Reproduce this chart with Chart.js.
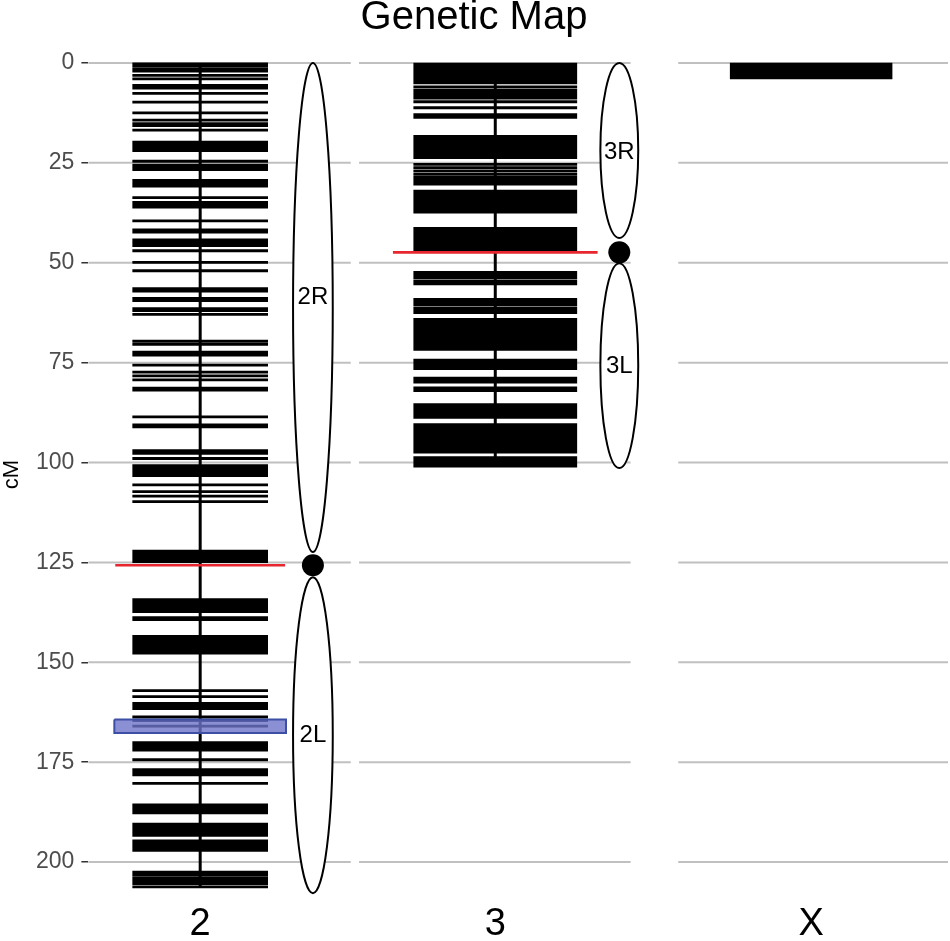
<!DOCTYPE html>
<html>
<head>
<meta charset="utf-8">
<title>Genetic Map</title>
<script src="https://cdn.jsdelivr.net/npm/chart.js@4.4.1/dist/chart.umd.min.js"></script>
<style>
  html, body { margin: 0; padding: 0; background: #fff; }
  #wrap { width: 950px; height: 941px; }
</style>
</head>
<body>
<div id="wrap"><canvas id="mapChart" width="950" height="941"></canvas></div>
<script>
// chromosomes along the x axis
const chromosomes = ['2', '3', 'X'];

// marker positions (cM) per chromosome
const markers2 = [
  0.2, 0.7, 1.5, 2.0, 3.1, 4.0, 5.6, 6.3, 7.6, 9.8, 12.5, 14.3, 15.2, 15.7, 16.8,
  19.8, 20.5, 21.2, 21.9, 24.6, 25.6, 26.3, 26.7, 29.4, 30.1, 30.8, 33.7, 34.9, 35.5, 36.1,
  39.5, 41.8, 42.3, 44.3, 45.0, 45.7, 47.0, 49.9, 52.0, 56.5, 57.1, 58.9, 59.5, 61.5, 62.0, 62.9,
  69.6, 70.4, 72.4, 73.1, 75.6, 77.4, 78.3, 79.3, 81.4, 81.9, 88.6, 90.6, 91.1, 97.0, 97.7, 99.0,
  100.8, 101.5, 102.2, 102.8, 103.3, 105.6, 107.3, 108.4, 109.8,
  122.2, 122.8, 123.4, 124.1, 124.8,
  134.3, 134.9, 135.5, 136.1, 136.7, 137.3, 138.8, 139.3,
  143.5, 144.1, 144.7, 145.3, 145.9, 146.5, 147.1, 147.7,
  157.1, 158.6, 160.3, 161.0, 161.6, 163.7, 164.6, 166.0,
  170.1, 170.8, 171.5, 172.0, 174.4, 176.9, 177.6, 178.2, 180.3,
  185.7, 186.4, 187.1, 187.7, 190.5, 191.2, 191.9, 192.6, 193.3,
  194.7, 195.4, 196.1, 196.8, 197.1,
  202.5, 203.2, 204.0, 204.7, 205.4, 206.2
];
const markers3 = [
  0.3, 0.9, 1.5, 2.1, 2.7, 3.3, 3.9, 4.5, 5.0, 6.0, 6.8, 7.5, 8.1, 8.8, 9.7, 11.2, 12.9, 13.6,
  18.4, 19.1, 19.8, 20.5, 21.2, 21.9, 22.6, 23.3, 23.7,
  25.4, 26.2, 27.0, 27.8, 28.6, 29.3, 30.0, 30.3,
  32.1, 32.8, 33.5, 34.2, 34.9, 35.6, 36.3, 37.0, 37.3,
  41.4, 42.1, 42.8, 43.5, 44.2, 44.9, 45.6, 46.3, 46.9,
  52.4, 53.1, 53.8, 54.6, 55.3,
  59.2, 59.9, 60.6, 61.4, 62.1, 62.5,
  64.2, 64.9, 65.6, 66.3, 67.0, 67.7, 68.4, 69.1, 69.8, 70.5, 71.2, 71.7,
  74.4, 75.1, 75.8, 76.5,
  78.9, 79.4, 79.9, 81.3, 82.0,
  85.5, 86.2, 86.9, 87.6, 88.3, 88.7,
  90.5, 91.2, 91.9, 92.6, 93.3, 94.0, 94.7, 95.4, 96.1, 96.8, 97.4,
  98.8, 99.5, 100.2, 100.9
];
const markersX = [0.3, 0.8, 1.3, 1.8, 2.3, 2.8, 3.3, 3.7];
const markerSets = [markers2, markers3, markersX];

// centromere position (cM) per chromosome
const centromeres = [125.7, 47.4, null];

// chromosome arms
const armNames = ['2R', '2L', '3R', '3L'];
const armChrom = [0, 0, 1, 1];
const armFrom = [0, 128.7, 0, 50.1];
const armTo = [122.4, 207.8, 43.8, 101.4];
const armLabelAt = [58.6, 168.3, 22.3, 75.9];

// highlighted interval
const qtlChrom = 0;
const qtlFrom = 164.3;
const qtlTo = 167.7;

const yTicks = [0, 25, 50, 75, 100, 125, 150, 175, 200];

// horizontal layout (x scale units)
const layout = {
  center: [0, 0.966, 2.0],
  barHalf: [0.222, 0.268, 0.266],
  redHalf: [0.278, 0.335],
  qtlHalf: 0.281,
  armOffset: [0.369, 0.406],
  armHalf: [0.065, 0.062],
  panels: [[-0.366, 0.493], [0.520, 1.409], [1.565, 2.448]]
};

const font = "'Liberation Sans', Arial, Helvetica, sans-serif";

function segments(center, half, values) {
  const out = [];
  values.forEach((v) => {
    out.push({ x: center - half, y: v });
    out.push({ x: center + half, y: v });
    out.push({ x: center + half, y: NaN });
  });
  return out;
}

const datasets = [];

markerSets.forEach((vals, i) => {
  datasets.push({
    label: 'markers ' + chromosomes[i],
    data: segments(layout.center[i], layout.barHalf[i], vals),
    showLine: true,
    borderColor: '#000',
    borderWidth: 2.8,
    pointRadius: 0,
    order: 5
  });
  datasets.push({
    label: 'backbone ' + chromosomes[i],
    data: [
      { x: layout.center[i], y: Math.min(...vals) },
      { x: layout.center[i], y: Math.max(...vals) }
    ],
    showLine: true,
    borderColor: '#000',
    borderWidth: 3,
    pointRadius: 0,
    order: 4
  });
});

centromeres.forEach((c, i) => {
  if (c === null) return;
  datasets.push({
    label: 'centromere line ' + chromosomes[i],
    data: segments(layout.center[i], layout.redHalf[i], [c]),
    showLine: true,
    borderColor: '#e8262f',
    borderWidth: 2.6,
    pointRadius: 0,
    order: 3
  });
});

const qc = layout.center[qtlChrom];
datasets.push({
  label: 'interval',
  data: [
    { x: qc - layout.qtlHalf, y: qtlFrom },
    { x: qc + layout.qtlHalf, y: qtlFrom },
    { x: qc + layout.qtlHalf, y: qtlTo },
    { x: qc - layout.qtlHalf, y: qtlTo },
    { x: qc - layout.qtlHalf, y: qtlFrom }
  ],
  showLine: true,
  fill: 'shape',
  backgroundColor: 'rgba(110,115,200,0.8)',
  borderColor: '#3c4fa5',
  borderWidth: 2,
  pointRadius: 0,
  order: 2
});

datasets.push({
  label: 'centromeres',
  data: centromeres
    .map((c, i) => (c === null ? null : { x: layout.center[i] + layout.armOffset[i], y: c }))
    .filter((p) => p),
  showLine: false,
  pointRadius: 11,
  pointBackgroundColor: '#000',
  pointBorderWidth: 0,
  order: 1
});

const mapDecor = {
  id: 'mapDecor',
  beforeDatasetsDraw(chart) {
    const { ctx } = chart;
    const xs = chart.scales.x;
    const ys = chart.scales.y;
    ctx.save();
    ctx.strokeStyle = '#c0c0c0';
    ctx.lineWidth = 2;
    yTicks.forEach((v) => {
      const py = ys.getPixelForValue(v);
      layout.panels.forEach(([a, b]) => {
        ctx.beginPath();
        ctx.moveTo(xs.getPixelForValue(a), py);
        ctx.lineTo(xs.getPixelForValue(b), py);
        ctx.stroke();
      });
    });

    armNames.forEach((name, i) => {
      const ci = armChrom[i];
      const cxv = layout.center[ci] + layout.armOffset[ci];
      const cx = xs.getPixelForValue(cxv);
      const rx = xs.getPixelForValue(cxv + layout.armHalf[ci]) - cx;
      const top = ys.getPixelForValue(armFrom[i]);
      const bot = ys.getPixelForValue(armTo[i]);
      ctx.beginPath();
      ctx.ellipse(cx, (top + bot) / 2, rx, Math.abs(bot - top) / 2, 0, 0, Math.PI * 2);
      ctx.fillStyle = '#fff';
      ctx.fill();
      ctx.lineWidth = 2;
      ctx.strokeStyle = '#000';
      ctx.stroke();
      ctx.fillStyle = '#000';
      ctx.font = '24px ' + font;
      ctx.textAlign = 'center';
      ctx.textBaseline = 'middle';
      ctx.fillText(name, cx, ys.getPixelForValue(armLabelAt[i]));
    });
    ctx.restore();
  }
};

new Chart(document.getElementById('mapChart'), {
  type: 'scatter',
  data: { datasets },
  options: {
    responsive: false,
    animation: false,
    devicePixelRatio: 1,
    layout: { autoPadding: false, padding: { top: 0, left: 0, right: 2, bottom: -15 } },
    plugins: {
      legend: { display: false },
      tooltip: { enabled: false },
      title: {
        display: true,
        text: 'Genetic Map',
        color: '#000',
        font: { family: font, size: 40, weight: 'normal', lineHeight: 0.9 },
        padding: { top: 0, bottom: 19 }
      }
    },
    scales: {
      x: {
        type: 'linear',
        min: layout.panels[0][0],
        max: layout.panels[2][1],
        afterBuildTicks: (scale) => {
          scale.ticks = layout.center.map((v) => ({ value: v }));
        },
        afterFit: (scale) => {
          scale.paddingLeft = 0;
          scale.paddingRight = 0;
        },
        grid: { display: false, drawTicks: false },
        border: { display: false },
        ticks: {
          autoSkip: false,
          maxRotation: 0,
          color: '#000',
          padding: 12,
          font: { family: font, size: 38, lineHeight: 1 },
          callback: (v, i) => chromosomes[i]
        }
      },
      y: {
        type: 'linear',
        reverse: true,
        min: -2,
        max: 208,
        afterBuildTicks: (scale) => {
          scale.ticks = yTicks.map((v) => ({ value: v }));
        },
        grid: {
          display: true,
          drawOnChartArea: false,
          drawTicks: true,
          tickLength: 7,
          color: '#333',
          lineWidth: 1.5
        },
        border: { display: false },
        ticks: {
          color: '#4d4d4d',
          padding: 7,
          font: { family: font, size: 23 }
        },
        title: {
          display: true,
          text: 'cM',
          color: '#000',
          font: { family: font, size: 22, lineHeight: 1 },
          padding: { top: 1, bottom: 6 }
        }
      }
    }
  },
  plugins: [mapDecor]
});
</script>
</body>
</html>
